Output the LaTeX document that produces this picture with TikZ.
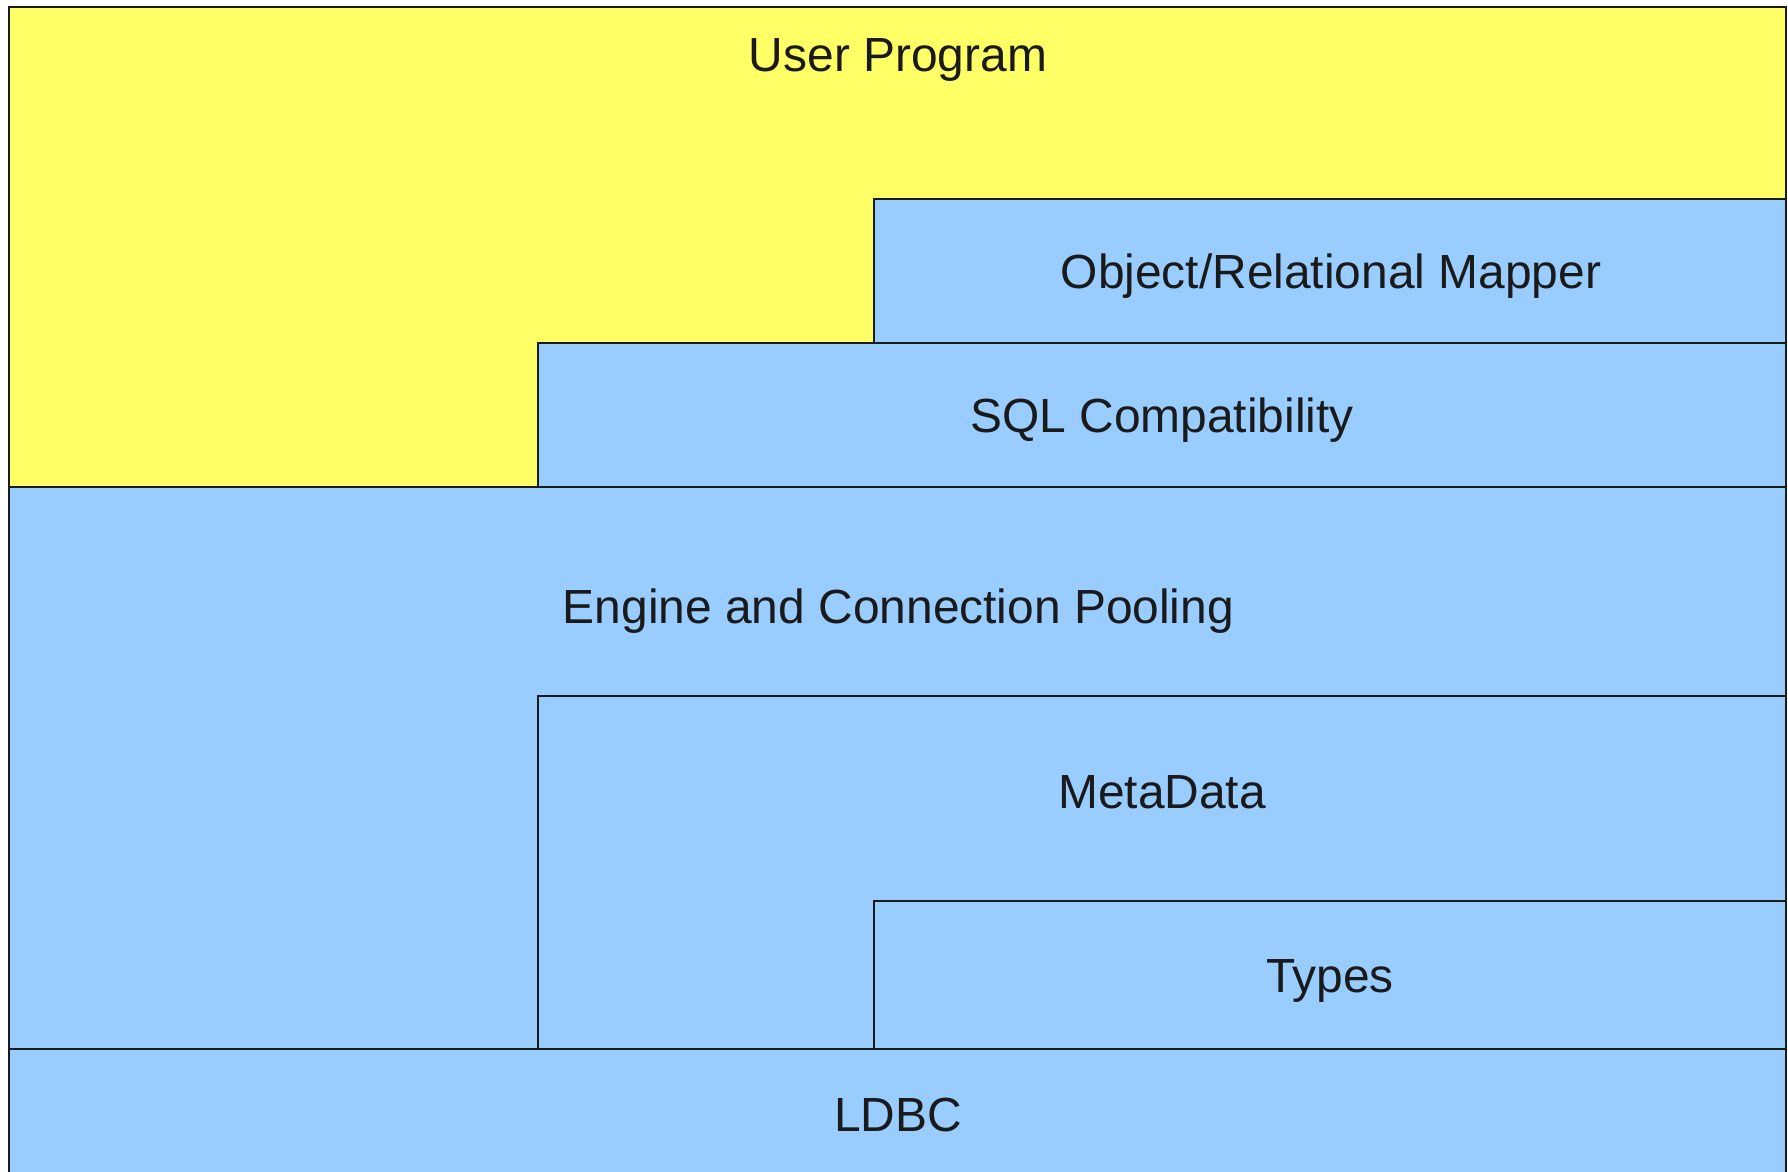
\documentclass[tikz,border=0pt]{standalone}
\usepackage{fontspec}
\setmainfont{Liberation Sans}
\definecolor{upyellow}{HTML}{FFFF66}
\definecolor{layerblue}{HTML}{99CCFF}
\definecolor{inkdark}{HTML}{1A1A1A}
\begin{document}
\begin{tikzpicture}[x=1pt,y=-1pt,
  layerbox/.style={draw=inkdark,line width=1.1pt},
  ybox/.style={layerbox,fill=upyellow},
  bbox/.style={layerbox,fill=layerblue},
  lbl/.style={anchor=base,inner sep=0pt,text=inkdark,font=\fontsize{47.9}{57}\selectfont}]
\useasboundingbox (0,0) rectangle (1788,1172);
\clip (0,0) rectangle (1788,1172);
\fill[white] (0,0) rectangle (1788,1172);
% boxes
\draw[ybox] (9,7) rectangle (1786,487);
\draw[bbox] (874,199) rectangle (1786,343);
\draw[bbox] (538,343) rectangle (1786,487);
\draw[bbox] (9,487) rectangle (1786,1049);
\draw[bbox] (538,696) rectangle (1786,1049);
\draw[bbox] (874,901) rectangle (1786,1049);
\draw[bbox] (9,1049) rectangle (1786,1195);
% labels
\node[lbl] (user) at (898,71) {User Program};
\node[lbl] (orm) at (1331,288) {Object/Relational Mapper};
\node[lbl] (sql) at (1162,432) {SQL Compatibility};
\node[lbl] (engine) at (898.5,623) {Engine and Connection Pooling};
\node[lbl] (meta) at (1162,808) {MetaData};
\node[lbl] (types) at (1330,992) {Types};
\node[lbl] (ldbc) at (898,1131) {LDBC};
\end{tikzpicture}
\end{document}
